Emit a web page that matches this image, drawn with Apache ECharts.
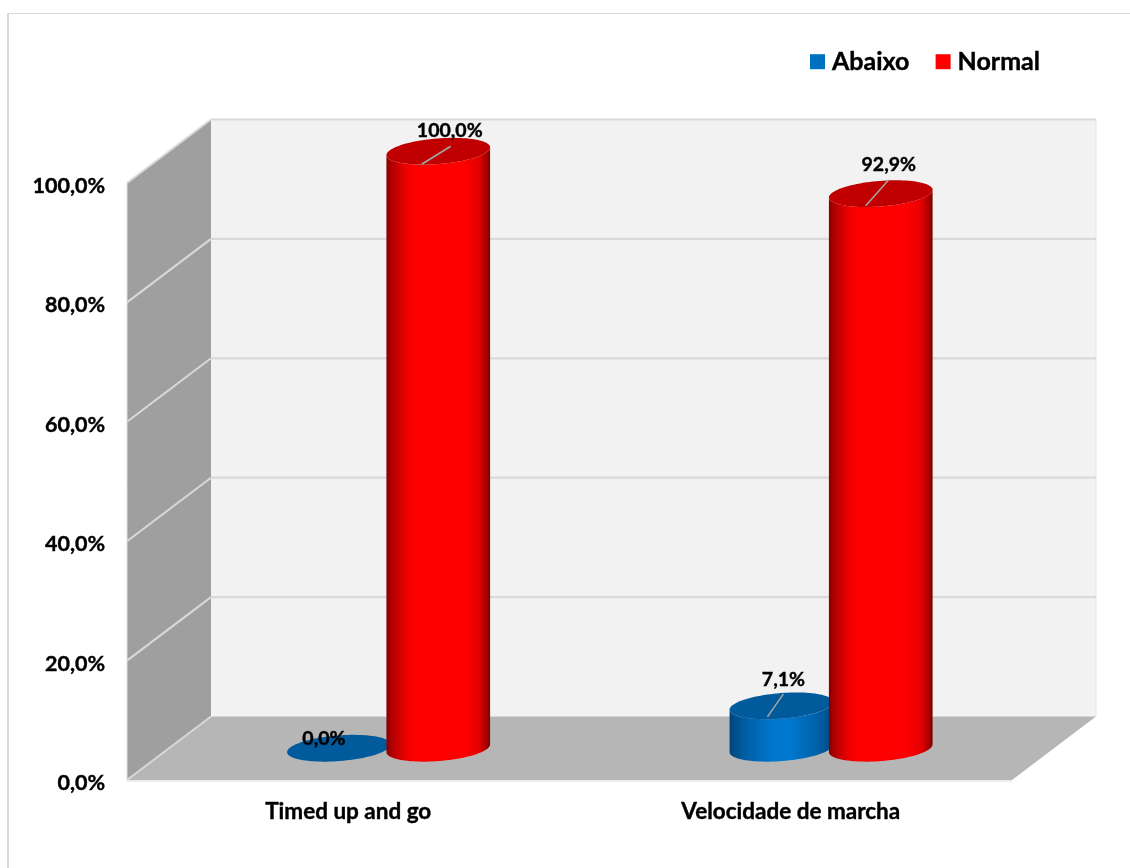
<!DOCTYPE html>
<html>
<head>
<meta charset="utf-8">
<script src="https://cdn.jsdelivr.net/npm/echarts@6/dist/echarts.min.js"></script>
<style>html,body{margin:0;padding:0;background:#fff}#c{width:1130px;height:868px}</style>
</head>
<body>
<div id="c"></div>
<script>
const categories = ['Timed up and go', 'Velocidade de marcha'];
const abaixo = [0, 7.1];
const normal = [100, 92.9];
const yTicks = [0, 20, 40, 60, 80, 100];
const seriesNames = ['Abaixo', 'Normal'];

const FONT = 'Lato';
const DEPTH_X = 84, DEPTH_Y = -63.5;
const TILT = -4.5 * Math.PI / 180, RX = 52, RY = 12.8;
const pct = v => v.toFixed(1).replace('.', ',') + '%';
const HEAVY = { textBorderColor: '#000', textBorderWidth: 0.4 };

function ring(cx, cy, t0, t1, n) {
  const pts = [];
  for (let i = 0; i <= n; i++) {
    const t = t0 + (t1 - t0) * i / n;
    const ex = RX * Math.cos(t), ey = RY * Math.sin(t);
    pts.push([cx + ex * Math.cos(TILT) - ey * Math.sin(TILT),
              cy + ex * Math.sin(TILT) + ey * Math.cos(TILT)]);
  }
  return pts;
}

function cylinder(styleSet, shift, labelPos, leaders) {
  return function (params, api) {
    const idx = api.value(0), val = api.value(1);
    const band = api.size([1, 0])[0];
    const top = api.coord([idx, val]), base = api.coord([idx, 0]);
    const cx = base[0] + DEPTH_X / 2 + shift * band;
    const cyB = base[1] + DEPTH_Y / 2, cyT = top[1] + DEPTH_Y / 2;
    const children = [];
    if (val > 0) {
      const body = ring(cx, cyB, 0, Math.PI, 48).concat(ring(cx, cyT, Math.PI, 0, 48));
      children.push({
        type: 'polygon', shape: { points: body },
        style: { fill: new echarts.graphic.LinearGradient(0, 0, 1, 0, styleSet.body) }
      });
    }
    children.push({
      type: 'polygon', shape: { points: ring(cx, cyT, 0, Math.PI * 2, 96) },
      style: { fill: styleSet.top }
    });
    const lead = leaders[idx];
    if (lead) {
      children.push({
        type: 'line',
        shape: { x1: cx + lead[0], y1: cyT + lead[1], x2: cx + lead[2], y2: cyT + lead[3] },
        style: { stroke: '#a6a6a6', lineWidth: 1.5 }
      });
    }
    const lp = labelPos[idx];
    children.push({
      type: 'text',
      style: {
        x: cx + lp[0], y: cyT + lp[1], text: pct(val), fill: '#000',
        font: 'bold 19.5px ' + FONT, align: 'center', verticalAlign: 'middle',
        stroke: '#000', lineWidth: 0.4
      }
    });
    return { type: 'group', children };
  };
}

const redStyle = {
  top: '#c00000',
  body: [
    { offset: 0, color: '#860000' }, { offset: 0.05, color: '#b00000' },
    { offset: 0.2, color: '#f00000' }, { offset: 0.3, color: '#ff0000' },
    { offset: 0.75, color: '#ff0000' }, { offset: 0.9, color: '#e00000' },
    { offset: 1, color: '#800000' }
  ]
};
const blueStyle = {
  top: '#005a9c',
  body: [
    { offset: 0, color: '#00457a' }, { offset: 0.12, color: '#005a9e' },
    { offset: 0.42, color: '#0078d0' }, { offset: 0.58, color: '#0078d0' },
    { offset: 0.85, color: '#0060a8' }, { offset: 1, color: '#004a80' }
  ]
};

function renderWalls(params, api) {
  const g = params.coordSys;
  const x0 = g.x, x1 = g.x + g.width;
  const yB = api.coord([0, yTicks[0]])[1], yT = api.coord([0, yTicks[yTicks.length - 1]])[1];
  const dx = DEPTH_X, dy = DEPTH_Y;
  return {
    type: 'group',
    children: [
      { type: 'polygon', shape: { points: [[x0 + dx, yT + dy], [x1 + dx, yT + dy], [x1 + dx, yB + dy], [x0 + dx, yB + dy]] },
        style: { fill: '#f2f2f2' } },
      { type: 'polygon', shape: { points: [[x0, yT], [x0 + dx, yT + dy], [x0 + dx, yB + dy], [x0, yB]] },
        style: { fill: '#9f9f9f' } },
      { type: 'polygon', shape: { points: [[x0, yB], [x0 + dx, yB + dy], [x1 + dx, yB + dy], [x1, yB]] },
        style: { fill: '#b6b6b6' } },
      { type: 'line', shape: { x1: x0, y1: yB + 1, x2: x1, y2: yB + 1 }, style: { stroke: '#e6e6e6', lineWidth: 1.5 } },
      { type: 'line', shape: { x1: x0, y1: yB, x2: x0, y2: yT }, style: { stroke: '#e0e0e0', lineWidth: 1 } },
      { type: 'line', shape: { x1: x1 + dx, y1: yB + dy, x2: x1 + dx, y2: yT + dy }, style: { stroke: '#e6e6e6', lineWidth: 1 } }
    ]
  };
}

function renderGridLine(params, api) {
  const g = params.coordSys;
  const y = api.coord([0, api.value(0)])[1];
  const x0 = g.x, x1 = g.x + g.width;
  const children = [
    { type: 'line', shape: { x1: x0, y1: y, x2: x0 + DEPTH_X, y2: y + DEPTH_Y },
      style: { stroke: '#d9d9d9', lineWidth: 2 } }
  ];
  if (api.value(0) !== yTicks[0]) {
    children.push({ type: 'line', shape: { x1: x0 + DEPTH_X, y1: y + DEPTH_Y, x2: x1 + DEPTH_X, y2: y + DEPTH_Y },
      style: { stroke: '#d9d9d9', lineWidth: 2.2 } });
  }
  return { type: 'group', children };
}

const chart = echarts.init(document.getElementById('c'), null, { renderer: 'canvas' });
chart.setOption({
  animation: false,
  backgroundColor: '#ffffff',
  textStyle: { fontFamily: FONT },
  grid: { left: 127, right: 118, top: 183, bottom: 88, containLabel: false },
  legend: {
    left: 805, top: 44, icon: 'rect', itemWidth: 15, itemHeight: 15, itemGap: 26,
    data: seriesNames,
    textStyle: { fontFamily: FONT, fontWeight: 'bold', fontSize: 25, color: '#000', padding: [0, 0, 0, 2], ...HEAVY },
    selectedMode: false
  },
  graphic: [
    { type: 'line', silent: true, shape: { x1: 8, y1: 13.5, x2: 1130, y2: 13.5 }, style: { stroke: '#d9d9d9', lineWidth: 1 } },
    { type: 'line', silent: true, shape: { x1: 8, y1: 13, x2: 8, y2: 868 }, style: { stroke: '#d9d9d9', lineWidth: 2 } }
  ],
  xAxis: {
    type: 'category', data: categories,
    axisLine: { show: false }, axisTick: { show: false }, splitLine: { show: false },
    axisLabel: { margin: 20, fontFamily: FONT, fontWeight: 'bold', fontSize: 22.5, color: '#000', ...HEAVY }
  },
  yAxis: {
    type: 'value', min: 0, max: 100, interval: 20,
    axisLine: { show: false }, axisTick: { show: false }, splitLine: { show: false },
    axisLabel: { margin: 22, fontFamily: FONT, fontWeight: 'bold', fontSize: 21.5, color: '#000', verticalAlign: 'top', padding: [-8, 0, 0, 0], ...HEAVY, formatter: v => pct(v) }
  },
  series: [
    { type: 'custom', z: 1, silent: true, data: [[0]], renderItem: renderWalls, encode: { x: [], y: [] } },
    { type: 'custom', z: 2, silent: true, data: yTicks.map(v => [v]), renderItem: renderGridLine, encode: { x: [], y: [] } },
    {
      type: 'custom', name: seriesNames[0], z: 3, itemStyle: { color: '#0070c0' },
      data: abaixo.map((v, i) => [i, v]), encode: { x: 0, y: 1 },
      renderItem: cylinder(blueStyle, -0.116, [[-15, -10], [2, -26]], [null, [-14, 11, 2, -12]])
    },
    {
      type: 'custom', name: seriesNames[1], z: 4, itemStyle: { color: '#ff0000' },
      data: normal.map((v, i) => [i, v]), encode: { x: 0, y: 1 },
      renderItem: cylinder(redStyle, 0.1085, [[11.5, -21], [8, -29]], [[-16.5, 13, 12.5, -5], [-15, 12, 8, -14]])
    }
  ]
});
</script>
</body>
</html>
